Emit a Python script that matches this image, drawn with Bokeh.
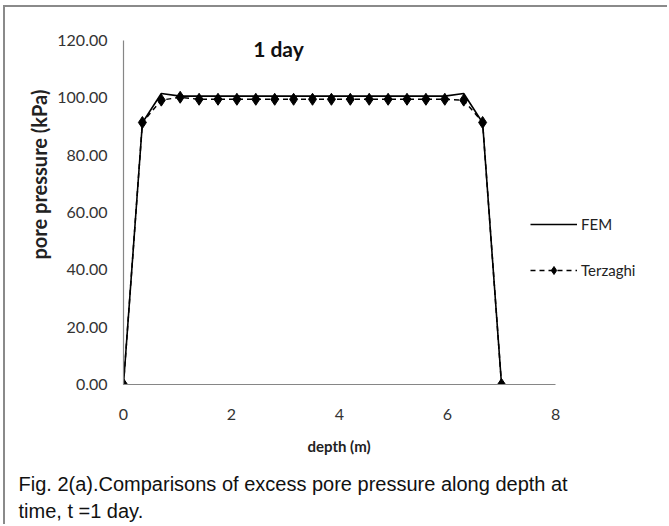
from bokeh.plotting import figure
from bokeh.models import Range1d, Label, Legend, LegendItem, FixedTicker, NumeralTickFormatter, Title
from bokeh.embed import file_html
from bokeh.resources import INLINE

# ---- data ----
depth = [0.00, 0.35, 0.70, 1.05, 1.40, 1.75, 2.10, 2.45, 2.80, 3.15, 3.50,
         3.85, 4.20, 4.55, 4.90, 5.25, 5.60, 5.95, 6.30, 6.65, 7.00]
fem = [0.0, 91.3, 101.5, 100.6, 100.6, 100.6, 100.6, 100.6, 100.6, 100.6, 100.6,
       100.6, 100.6, 100.6, 100.6, 100.6, 100.6, 100.6, 101.5, 91.3, 0.0]
terzaghi = [0.0, 91.4, 99.2, 100.2, 99.5, 99.5, 99.5, 99.5, 99.5, 99.5, 99.5,
            99.5, 99.5, 99.5, 99.5, 99.5, 99.5, 99.5, 99.2, 91.4, 0.0]
x_ticks = [0, 2, 4, 6, 8]
y_ticks = [0, 20, 40, 60, 80, 100, 120]
series_names = ["FEM", "Terzaghi"]
title_text = "1 day"
x_title = "depth (m)"
y_title = "pore pressure (kPa)"
caption = ["Fig. 2(a).Comparisons of excess pore pressure along depth at",
           "time, t =1 day."]

p = figure(width=664, height=519, output_backend="svg", toolbar_location=None,
           x_range=Range1d(0, 9.907), y_range=Range1d(0, 120),
           min_border_left=118, min_border_right=11, min_border_top=33,
           min_border_bottom=142)
p.styles = {"margin-left": "5px", "margin-top": "7px",
            "box-shadow": "-2px -2px 0px 0px #8a8a8a"}
p.outline_line_color = None
p.grid.visible = False
p.background_fill_color = "white"
p.border_fill_color = "white"

# axes
for ax in (p.xaxis[0], p.yaxis[0]):
    ax.axis_line_color = "#868686"
    ax.axis_line_width = 1.2
    ax.major_tick_line_color = None
    ax.minor_tick_line_color = None
    ax.major_tick_out = 0
    ax.major_tick_in = 0
    ax.major_label_text_font = "Lato"
    ax.major_label_text_font_size = "16px"
    ax.major_label_text_color = "#333333"

p.xaxis.bounds = (0, 8)
p.xaxis.ticker = FixedTicker(ticks=x_ticks)
p.xaxis.major_label_standoff = 24

p.yaxis.ticker = FixedTicker(ticks=y_ticks)
p.yaxis.formatter = NumeralTickFormatter(format="0.00")
p.yaxis.major_label_standoff = 16

# series
r_fem = p.line(depth, fem, line_color="black", line_width=1.6)
r_tz_line = p.line(depth, terzaghi, line_color="black", line_width=1.5, line_dash="5 4")
r_tz_pts = p.scatter(depth, terzaghi, marker="diamond", size=12, color="black")

legend = Legend(items=[LegendItem(label=series_names[0], renderers=[r_fem]),
                       LegendItem(label=series_names[1], renderers=[r_tz_line, r_tz_pts])],
                location=(407, 104), padding=0, margin=0, spacing=26,
                glyph_width=47, glyph_height=20, label_height=20, label_standoff=4,
                border_line_color=None, background_fill_alpha=0,
                label_text_font="Lato", label_text_font_size="15px",
                label_text_color="#222222")
p.add_layout(legend)

# chart title inside plot area
p.add_layout(Label(x=2.87, y=117.2, text=title_text, text_font="Lato",
                   text_font_style="bold", text_font_size="21px",
                   text_align="center", text_baseline="middle", text_color="#111111"))

# y axis title (shifted upward like the reference)
p.add_layout(Title(text=y_title, align="left", offset=125, standoff=8,
                   text_font="Lato", text_font_style="bold", text_font_size="20px",
                   text_color="#222222"), "left")

# x axis title centred under the 0-8 axis
p.add_layout(Title(text=x_title, align="left", offset=184, standoff=24,
                   text_font="Lato", text_font_style="bold", text_font_size="15px",
                   text_color="#222222"), "below")

# caption lines below the chart
p.add_layout(Title(text=caption[0], align="left", offset=-105, standoff=8,
                   text_font="Liberation Sans", text_font_style="normal",
                   text_font_size="20px", text_color="#111111"), "below")
p.add_layout(Title(text=caption[1], align="left", offset=-105, standoff=-2,
                   text_font="Liberation Sans", text_font_style="normal",
                   text_font_size="20px", text_color="#111111"), "below")

open("out.html", "w").write(file_html(p, INLINE))
